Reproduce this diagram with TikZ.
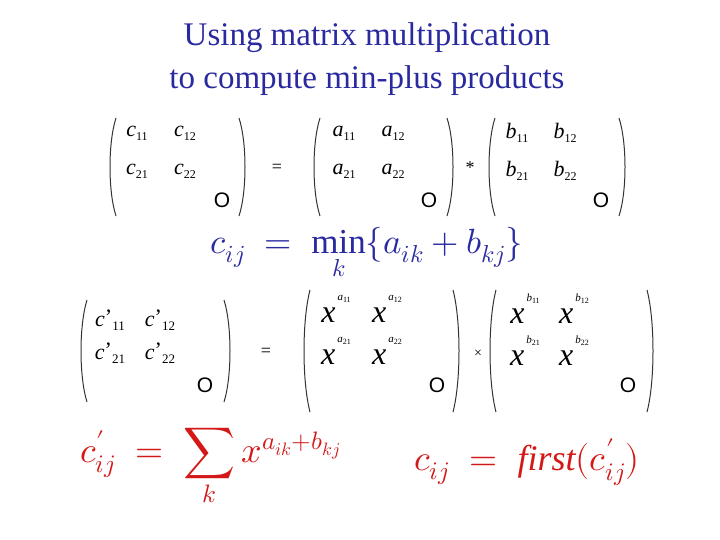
\documentclass[tikz,border=0pt]{standalone}
\usepackage{fontspec}
\setmainfont{Liberation Serif}
\newfontfamily\osans{Liberation Sans}
\usepackage{unicode-math}
\setmathfont{Latin Modern Math}
\definecolor{tblue}{HTML}{2A2AA0}
\definecolor{tred}{HTML}{D41818}
\newcommand{\ent}[2]{\textit{#1}\raisebox{-0.4ex}{\fontsize{12}{12}\selectfont #2}}
\newcommand{\entp}[2]{\textit{#1}\raisebox{0.2ex}{'}\raisebox{-0.4ex}{\fontsize{13}{13}\selectfont #2}}
\newcommand{\xe}[2]{\fontsize{32}{32}\selectfont\textit{x}\kern2pt\raisebox{1.5ex}{\fontsize{11}{11}\selectfont\textit{#1}\raisebox{-0.3ex}{\fontsize{8}{8}\selectfont #2}}}
\begin{document}
\begin{tikzpicture}[x=1pt,y=-1pt,
  par/.style={line width=1pt,black!80},
  el/.style={inner sep=0pt,font=\fontsize{22}{22}\selectfont},
  zero/.style={inner sep=0pt,font=\osans\fontsize{21}{21}\selectfont},
  op/.style={inner sep=0pt,font=\fontsize{18}{18}\selectfont}]
\useasboundingbox (0,0) rectangle (720,540);
\node[tblue,font=\fontsize{33}{43}\selectfont,align=center] (title) at (367,59) {Using matrix multiplication\\to compute min-plus products};
\def\lp#1#2#3{\draw[par] (#1+6,#2) .. controls (#1-2,#2+0.25*#3-0.25*#2) and (#1-2,#2+0.75*#3-0.75*#2) .. (#1+6,#3);}
\def\rp#1#2#3{\draw[par] (#1-6,#2) .. controls (#1+2,#2+0.25*#3-0.25*#2) and (#1+2,#2+0.75*#3-0.75*#2) .. (#1-6,#3);}
% top row
\lp{110}{118}{216} \rp{245}{118}{216}
\node[el] (c11) at (137,133) {\ent{c}{11}};
\node[el] (c12) at (185,133) {\ent{c}{12}};
\node[el] (c21) at (137,171) {\ent{c}{21}};
\node[el] (c22) at (185,171) {\ent{c}{22}};
\node[zero] (cO) at (222,200) {O};
\node[op] (eq1) at (277,168) {=};
\lp{314}{118}{216} \rp{453}{118}{216}
\node[el] (a11) at (344,133) {\ent{a}{11}};
\node[el] (a12) at (393,133) {\ent{a}{12}};
\node[el] (a21) at (344,171) {\ent{a}{21}};
\node[el] (a22) at (393,171) {\ent{a}{22}};
\node[zero] (aO) at (429,200) {O};
\node[op] (st) at (470,168) {*};
\lp{489}{118}{216} \rp{625}{118}{216}
\node[el] (b11) at (517,133) {\ent{b}{11}};
\node[el] (b12) at (565,133) {\ent{b}{12}};
\node[el] (b21) at (517,171) {\ent{b}{21}};
\node[el] (b22) at (565,171) {\ent{b}{22}};
\node[zero] (bO) at (601,200) {O};
\node[tblue,inner sep=0pt,font=\fontsize{35}{35}\selectfont] (f1) at (367,254) {$c_{ij} \;=\; \min\limits_{k}\{a_{ik}+b_{kj}\}$};
% bottom row
\lp{81}{300}{402} \rp{230}{300}{402}
\node[el] (d11) at (110,320) {\entp{c}{11}};
\node[el] (d12) at (160,320) {\entp{c}{12}};
\node[el] (d21) at (110,353) {\entp{c}{21}};
\node[el] (d22) at (160,353) {\entp{c}{22}};
\node[zero] (dO) at (205,385) {O};
\node[op] (eq2) at (266,352) {=};
\lp{304}{290}{412} \rp{459}{290}{412}
\node[inner sep=0pt] (x11) at (336,309) {\xe{a}{11}};
\node[inner sep=0pt] (x12) at (387,309) {\xe{a}{12}};
\node[inner sep=0pt] (x21) at (336,351) {\xe{a}{21}};
\node[inner sep=0pt] (x22) at (387,351) {\xe{a}{22}};
\node[zero] (xO) at (437,385) {O};
\node[op,font=\fontsize{14}{14}\selectfont] (tm) at (478,354) {×};
\lp{490}{290}{412} \rp{653}{290}{412}
\node[inner sep=0pt] (y11) at (525,309) {\xe{b}{11}};
\node[inner sep=0pt] (y12) at (574,309) {\xe{b}{12}};
\node[inner sep=0pt] (y21) at (525,351) {\xe{b}{21}};
\node[inner sep=0pt] (y22) at (574,351) {\xe{b}{22}};
\node[zero] (yO) at (628,385) {O};
\node[tred,inner sep=0pt,font=\fontsize{36}{36}\selectfont,anchor=west] (f2) at (80,468) {$\displaystyle c'_{ij} \;=\; \sum_{k} x^{a_{ik}+b_{kj}}$};
\node[tred,inner sep=0pt,font=\fontsize{36}{36}\selectfont,anchor=west] (f3) at (414,462) {$c_{ij} \;=\; \mathit{first}(c'_{ij})$};
\end{tikzpicture}
\end{document}
